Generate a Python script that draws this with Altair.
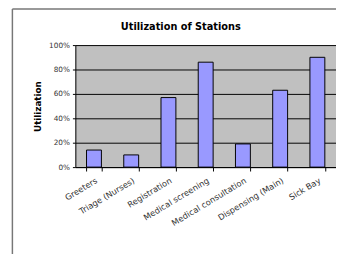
import altair as alt
import pandas as pd

stations = ["Greeters", "Triage (Nurses)", "Registration", "Medical screening",
            "Medical consultation", "Dispensing (Main)", "Sick Bay"]
utilization = [0.14, 0.10, 0.57, 0.86, 0.19, 0.63, 0.90]
chart_title = "Utilization of Stations"

df = pd.DataFrame({"station": stations, "util": utilization})

FONT = "DejaVu Sans"

bars = alt.Chart(df).mark_bar(
    fill="#9999FF", stroke="#000000", strokeWidth=1
).encode(
    x=alt.X("station:N", sort=stations,
            scale=alt.Scale(paddingInner=0.6, paddingOuter=0.3),
            axis=alt.Axis(title=None, labelAngle=-31, labelAlign="right",
                          labelBaseline="top", labelFontSize=8.5, labelColor="#333",
                          labelFont=FONT, labelPadding=5, tickBand="extent",
                          tickSize=4, tickColor="#000", domainColor="#000",
                          labelOverlap=False, labelBound=False)),
    y=alt.Y("util:Q", scale=alt.Scale(domain=[0, 1]),
            axis=alt.Axis(title="Utilization", format=".0%", values=[0, 0.2, 0.4, 0.6, 0.8, 1.0],
                          labelFontSize=7.5, labelFont=FONT, labelColor="#333",
                          titleFont=FONT, titleFontSize=9, titleFontWeight="bold",
                          titleColor="#000", titlePadding=6, tickSize=3, tickColor="#000",
                          domainColor="#000", gridColor="#000", gridOpacity=1,
                          gridWidth=1, labelPadding=3)),
)

frame_data = alt.Data(values=[{"t": chart_title}])
left_line = alt.Chart(frame_data).mark_rule(color="#777", strokeWidth=1.5).encode(
    x=alt.value(-64.5), y=alt.value(-37), y2=alt.value(220))
top_line = alt.Chart(frame_data).mark_rule(color="#777", strokeWidth=1.5).encode(
    x=alt.value(-64.5), x2=alt.value(300), y=alt.value(-37))
title_text = alt.Chart(frame_data).mark_text(
    font=FONT, fontSize=10, fontWeight="bold", color="#000",
    align="center", baseline="middle"
).encode(text="t:N", x=alt.value(108), y=alt.value(-18))

chart = alt.layer(left_line, top_line, bars, title_text).properties(
    width=267, height=125,
    autosize=alt.AutoSizeParams(type="none"),
    padding={"left": 69, "top": 35, "right": 0, "bottom": 86},
    background="white",
).configure_view(fill="#C0C0C0", stroke=None)

chart.save("out.html", embed_options={"renderer": "svg", "actions": False})
